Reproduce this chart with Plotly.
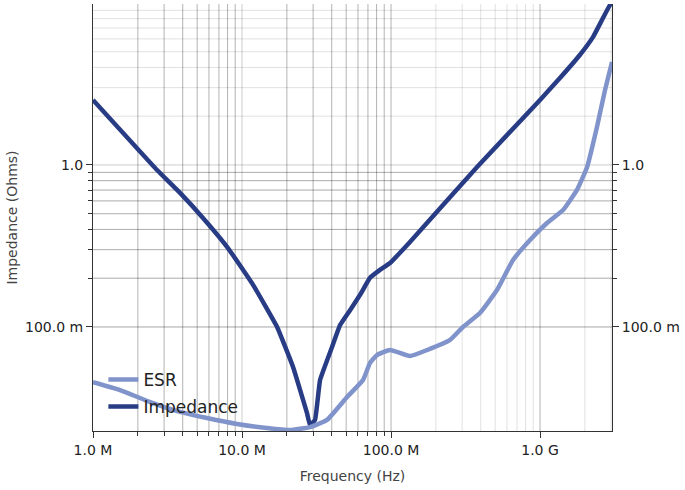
import numpy as np
import plotly.graph_objects as go

# ---------------- data ----------------
imp_freq = [1.0e6, 2.69e6, 3.84e6, 5.47e6, 8.05e6, 11.86e6, 17.2e6, 22.0e6, 27.3e6,
            28.6e6, 30.9e6, 33.4e6, 40.2e6, 45.5e6, 53.1e6, 62.0e6, 72.3e6, 84.3e6,
            98.5e6, 134e6, 378e6, 1.0e9, 1.36e9, 1.85e9, 2.27e9, 2.95e9, 3.04e9]
imp_z = [2.52, 0.931, 0.672, 0.471, 0.307, 0.182, 0.100, 0.0566, 0.0294,
         0.0248, 0.0267, 0.0471, 0.0753, 0.1028, 0.127, 0.158, 0.201, 0.225,
         0.248, 0.335, 0.972, 2.52, 3.44, 4.77, 6.17, 9.72, 9.85]

esr_freq = [1.0e6, 1.52e6, 2.42e6, 3.84e6, 5.82e6, 9.25e6, 14.7e6, 21.0e6, 28.6e6,
            37.2e6, 50.7e6, 64.9e6, 72.3e6, 80.5e6, 98.5e6, 134e6, 175e6, 249e6,
            304e6, 395e6, 514e6, 659e6, 857e6, 1.114e9, 1.427e9, 1.77e9, 2.07e9,
            2.41e9, 2.73e9, 3.04e9]
esr_z = [0.0457, 0.0408, 0.0344, 0.0299, 0.0274, 0.0252, 0.0238, 0.0231, 0.0241,
         0.0267, 0.0370, 0.0471, 0.0600, 0.0671, 0.0721, 0.0662, 0.0721, 0.0832,
         0.100, 0.122, 0.169, 0.259, 0.344, 0.438, 0.527, 0.701, 0.972,
         1.717, 2.90, 4.32]

x_major_vals = [1e6, 1e7, 1e8, 1e9]
x_major_text = ["1.0 M", "10.0 M", "100.0 M", "1.0 G"]
x_minor_vals = [m * d for d in (1e6, 1e7) for m in range(2, 10)]
x_light_vals = [m * 1e8 for m in range(2, 10)] + [2e9, 3e9]

y_major_vals = [0.1, 1.0]
y_major_text = ["100.0 m", "1.0"]
y_minor_vals = [m * 0.1 for m in range(2, 10)]
y_light_vals = [float(m) for m in range(2, 10)]

x_range = [1e6, 3.04e9]
y_range = [0.0228, 9.85]

# ---------------- styles ----------------
IMP_COLOR = "#283c85"
ESR_COLOR = "#8094cb"
FONT = "DejaVu Sans"
AX_COLOR = "#333333"

fig = go.Figure()
fig.add_trace(go.Scatter(x=esr_freq, y=esr_z, name="ESR", mode="lines",
                         line=dict(color=ESR_COLOR, width=4.5, shape="spline", smoothing=0.4),
                         yaxis="y2", legendgroup="a"))
fig.add_trace(go.Scatter(x=imp_freq, y=imp_z, name="Impedance", mode="lines",
                         line=dict(color=IMP_COLOR, width=4.5, shape="spline", smoothing=0.3),
                         legendgroup="b"))

shapes = []
def vline(v, a):
    shapes.append(dict(type="line", xref="x", yref="y domain", x0=v, x1=v, y0=0, y1=1,
                       line=dict(color=f"rgba(0,0,0,{a})", width=1), layer="below"))
def hline(v, a):
    shapes.append(dict(type="line", xref="x domain", yref="y", x0=0, x1=1, y0=v, y1=v,
                       line=dict(color=f"rgba(0,0,0,{a})", width=1), layer="below"))

for v in x_minor_vals:
    vline(v, 0.30)
for v in x_light_vals:
    vline(v, 0.12)
for v, a in zip(x_major_vals[1:], [0.2, 0.3, 0.3]):
    vline(v, a)
for v in y_minor_vals:
    hline(v, 0.33)
for v in y_light_vals:
    hline(v, 0.12)
hline(0.1, 0.35)
hline(1.0, 0.2)

tickfont = dict(family=FONT, size=14, color="#222222")

yax = dict(type="log", range=[np.log10(y_range[0]), np.log10(y_range[1])],
           tickvals=y_major_vals, ticktext=y_major_text, ticks="outside", ticklen=6,
           tickcolor=AX_COLOR, tickwidth=1, showgrid=False, zeroline=False,
           showline=True, linecolor=AX_COLOR, linewidth=1, tickfont=tickfont,
           automargin=False,
           minor=dict(tickvals=y_minor_vals, ticks="outside", ticklen=4,
                      tickcolor=AX_COLOR, showgrid=False))

fig.update_layout(
    width=685, height=490,
    margin=dict(l=93, r=73, t=4, b=59),
    paper_bgcolor="white", plot_bgcolor="white",
    font=dict(family=FONT, size=14, color="#444444"),
    shapes=shapes,
    xaxis=dict(type="log", range=[np.log10(x_range[0]), np.log10(x_range[1])],
               tickvals=x_major_vals, ticktext=x_major_text, ticks="outside", ticklen=6,
               tickcolor=AX_COLOR, tickwidth=1, showgrid=False, zeroline=False,
               showline=True, linecolor=AX_COLOR, linewidth=1, tickfont=tickfont,
               automargin=False,
               minor=dict(tickvals=x_minor_vals, ticks="outside", ticklen=4,
                          tickcolor=AX_COLOR, showgrid=False),
               title=dict(text="Frequency (Hz)", standoff=14,
                          font=dict(family=FONT, size=14, color="#444444"))),
    yaxis=dict(**yax, title=dict(text="Impedance (Ohms)", standoff=4,
                                 font=dict(family=FONT, size=14, color="#444444"))),
    yaxis2=dict(**yax, overlaying="y", side="right", matches="y"),
    legend=dict(x=0.02, y=0.162, xanchor="left", yanchor="top",
                bgcolor="rgba(0,0,0,0)", borderwidth=0, traceorder="grouped",
                tracegroupgap=2,
                font=dict(family=FONT, size=17, color="#222222")),
    showlegend=True,
)

fig.write_html("out.html", config={"displayModeBar": False},
               post_script="document.body.style.margin='0px';")
